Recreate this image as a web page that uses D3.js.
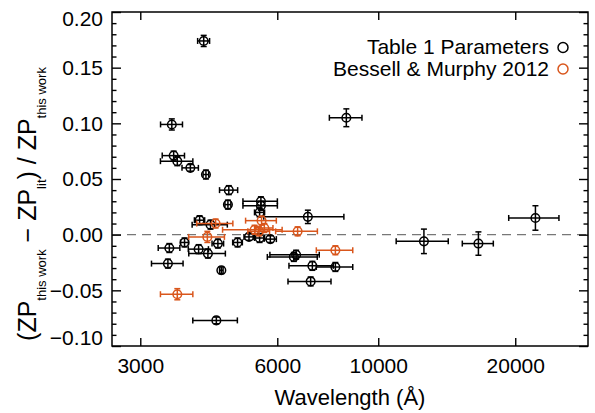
<!DOCTYPE html>
<html>
<head>
<meta charset="utf-8">
<script src="https://cdn.jsdelivr.net/npm/d3@7"></script>
<style>
  body { margin: 0; background: #fff; }
  text { font-family: "Liberation Sans", Arial, Helvetica, sans-serif; fill: #000; }
</style>
</head>
<body>
<div class="canvas"></div>
<script>
// data (wavelength in Angstrom, fractional ZP difference)

const tableWl     = [4135, 3519, 3552, 3618, 3865, 4182, 4695, 4674, 5523, 5523, 5487, 7004, 4050, 4280, 3475, 3753, 4030, 4224, 4443, 4908, 3450, 4521, 4408, 5200, 5487, 5792, 6525, 6600, 7165, 8050, 7104, 12600, 16600, 22150, 8509];
const tableDzp    = [0.174, 0.099, 0.071, 0.066, 0.060, 0.054, 0.040, 0.027, 0.030, 0.026, 0.020, 0.016, 0.013, 0.009, -0.012, -0.007, -0.013, -0.017, -0.008, -0.007, -0.026, -0.032, -0.077, -0.002, -0.003, -0.004, -0.020, -0.018, -0.028, -0.029, -0.042, -0.006, -0.008, 0.015, 0.105];
const tableWlErr  = [125, 195, 200, 296, 160, 60, 215, 70, 480, 480, 140, 1400, 105, 380, 190, 75, 205, 390, 130, 120, 275, 40, 495, 130, 140, 180, 820, 820, 800, 740, 770, 1650, 1300, 2800, 700];
const tableDzpErr = [0.005, 0.005, 0.004, 0.004, 0.003, 0.004, 0.004, 0.004, 0.004, 0.004, 0.004, 0.006, 0.004, 0.004, 0.004, 0.004, 0.004, 0.004, 0.004, 0.004, 0.004, 0.003, 0.003, 0.003, 0.004, 0.003, 0.004, 0.004, 0.004, 0.004, 0.004, 0.011, 0.0105, 0.011, 0.008];

const bmWl     = [3618, 4212, 4392, 5349, 5541, 5470, 5620, 6650, 8050];
const bmDzp    = [-0.0535, -0.002, 0.010, 0.0044, 0.0126, 0.003, 0.006, 0.003, -0.014];
const bmWlErr  = [296, 380, 400, 800, 430, 300, 250, 700, 740];
const bmDzpErr = [0.005, 0.005, 0.004, 0.004, 0.004, 0.004, 0.004, 0.004, 0.004];

const xTicks = [3000, 6000, 10000, 20000];
const yTicks = [-0.10, -0.05, 0.00, 0.05, 0.10, 0.15, 0.20];
const legendLabels = ["Table 1 Parameters", "Bessell & Murphy 2012"];

const orange = "#d9561c";

// frame
const W = 595, H = 413;
const frame = { left: 112, right: 588, top: 12, bottom: 346 };

const x = d3.scaleLog().domain([2600, 28900]).range([frame.left, frame.right]);
const y = d3.scaleLinear().domain([-0.10, 0.20]).range([frame.bottom, frame.top]);

const svg = d3.select(".canvas")
  .append("svg")
    .attr("width", W)
    .attr("height", H);

svg.append("rect").attr("width", W).attr("height", H).attr("fill", "#fff");

// zero line
svg.append("line")
  .attr("x1", frame.left).attr("x2", frame.right)
  .attr("y1", y(0)).attr("y2", y(0))
  .attr("stroke", "#777").attr("stroke-width", 1.3)
  .attr("stroke-dasharray", "9,6");

// axes (ticks inward on all four sides)
const tickStyle = g => {
  g.select(".domain").remove();
  g.selectAll("line").attr("stroke", "#000").attr("stroke-width", 1.4);
};

const minorY = d3.range(-0.10, 0.2001, 0.01).filter(v => Math.abs(Math.round(v * 100) % 5) !== 0);

svg.append("g")
  .attr("transform", `translate(0,${frame.bottom})`)
  .call(d3.axisBottom(x).tickValues(xTicks).tickSize(-8).tickFormat(d3.format("d")).tickPadding(12))
  .call(tickStyle)
  .call(g => g.selectAll("text").attr("font-size", 21).attr("fill", "#000")
    .attr("font-family", "Liberation Sans, Arial, sans-serif"));

svg.append("g")
  .attr("transform", `translate(0,${frame.top})`)
  .call(d3.axisTop(x).tickValues(xTicks).tickSize(-8).tickFormat(""))
  .call(tickStyle);

// end labels sit inside the frame height, like the original
svg.append("g")
  .attr("transform", `translate(${frame.left},0)`)
  .call(d3.axisLeft(y).tickValues(yTicks).tickSize(-9).tickFormat(d3.format(".2f")).tickPadding(9))
  .call(tickStyle)
  .call(g => g.selectAll("text").attr("font-size", 21).attr("fill", "#000")
    .attr("font-family", "Liberation Sans, Arial, sans-serif")
    .attr("y", d => d === 0.20 ? 7 : d === -0.10 ? -8 : 0)
    .text(d => d3.format(".2f")(d).replace("-", "\u2212")));

svg.append("g")
  .attr("transform", `translate(${frame.left},0)`)
  .call(d3.axisLeft(y).tickValues(minorY).tickSize(-4.5).tickFormat(""))
  .call(tickStyle);

svg.append("g")
  .attr("transform", `translate(${frame.right},0)`)
  .call(d3.axisRight(y).tickValues(yTicks).tickSize(-9).tickFormat(""))
  .call(tickStyle);

svg.append("g")
  .attr("transform", `translate(${frame.right},0)`)
  .call(d3.axisRight(y).tickValues(minorY).tickSize(-4.5).tickFormat(""))
  .call(tickStyle);

// frame box
svg.append("rect")
  .attr("x", frame.left).attr("y", frame.top)
  .attr("width", frame.right - frame.left).attr("height", frame.bottom - frame.top)
  .attr("fill", "none").attr("stroke", "#000").attr("stroke-width", 1.5);

// error bars + open circles
function drawSeries(wl, dzp, wlErr, dzpErr, color) {
  const pts = wl.map((w, i) => ({ w: w, v: dzp[i], we: wlErr[i], ve: dzpErr[i] }));
  const g = svg.append("g").attr("stroke", color).attr("stroke-width", 1.5).attr("fill", "none");
  const cap = 3;
  pts.forEach(d => {
    const cx = x(d.w), cy = y(d.v);
    const x0 = x(d.w - d.we), x1 = x(d.w + d.we);
    const y0 = y(d.v - d.ve), y1 = y(d.v + d.ve);
    g.append("line").attr("x1", x0).attr("x2", x1).attr("y1", cy).attr("y2", cy);
    g.append("line").attr("x1", x0).attr("x2", x0).attr("y1", cy - cap).attr("y2", cy + cap);
    g.append("line").attr("x1", x1).attr("x2", x1).attr("y1", cy - cap).attr("y2", cy + cap);
    g.append("line").attr("x1", cx).attr("x2", cx).attr("y1", y0).attr("y2", y1);
    g.append("line").attr("x1", cx - cap).attr("x2", cx + cap).attr("y1", y0).attr("y2", y0);
    g.append("line").attr("x1", cx - cap).attr("x2", cx + cap).attr("y1", y1).attr("y2", y1);
    g.append("circle").attr("cx", cx).attr("cy", cy).attr("r", 4.3);
  });
}

drawSeries(tableWl, tableDzp, tableWlErr, tableDzpErr, "#000");
drawSeries(bmWl, bmDzp, bmWlErr, bmDzpErr, orange);

// legend
const legend = svg.append("g");
legendLabels.forEach((lab, i) => {
  const ly = 54 + i * 21.5;
  legend.append("text")
    .attr("x", 549).attr("y", ly)
    .attr("text-anchor", "end")
    .attr("font-size", 21)
    .text(lab);
  legend.append("circle")
    .attr("cx", 563).attr("cy", ly - 6.5).attr("r", 5)
    .attr("fill", "none")
    .attr("stroke", i === 0 ? "#000" : orange)
    .attr("stroke-width", 1.5);
});

// axis titles
svg.append("text")
  .attr("x", 350).attr("y", 405)
  .attr("text-anchor", "middle")
  .attr("font-size", 22)
  .text("Wavelength (\u00C5)");

const yt = svg.append("text")
  .attr("transform", "translate(36,204) rotate(-90)")
  .attr("text-anchor", "middle")
  .attr("font-size", 25);
yt.append("tspan").text("(ZP");
yt.append("tspan").attr("font-size", 13).attr("dy", 10).text("this work");
yt.append("tspan").attr("dy", -10).text(" \u2212 ZP");
yt.append("tspan").attr("font-size", 13).attr("dy", 10).text("lit");
yt.append("tspan").attr("dy", -10).text(") / ZP");
yt.append("tspan").attr("font-size", 13).attr("dy", 10).text("this work");
</script>
</body>
</html>
